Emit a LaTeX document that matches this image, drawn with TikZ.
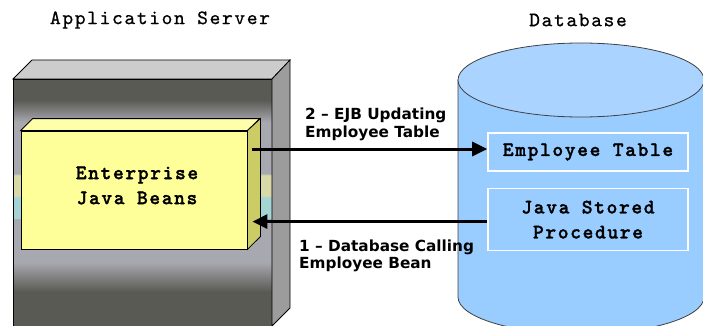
\documentclass[tikz,border=0pt]{standalone}
\usepackage{fontspec}
\usepackage{xcolor}
\usepackage{tikz}
\usetikzlibrary{arrows.meta,positioning,calc}
\newfontfamily\monofont{lmmono10-regular.otf}[LetterSpace=8, FakeBold=0.7, BoldFont=lmmonolt10-bold.otf, BoldFeatures={LetterSpace=8, FakeBold=1.4}]
\newfontfamily\arrowfont{DejaVu Sans}
\definecolor{srvdark}{HTML}{5A5A54}
\definecolor{srvlight}{HTML}{A8A8B0}
\definecolor{bandyellow}{HTML}{D8D8A8}
\definecolor{bandcyan}{HTML}{A4D4D4}
\definecolor{srvtop}{HTML}{CCCCCC}
\definecolor{srvside}{HTML}{9C9C9C}
\definecolor{ejbfront}{HTML}{FFFF99}
\definecolor{ejbtop}{HTML}{FFFFAA}
\definecolor{ejbside}{HTML}{CCCC66}
\definecolor{dbtop}{HTML}{AAD4FF}
\definecolor{dbbody}{HTML}{99CCFF}
\definecolor{dbline}{HTML}{404040}
\pgfdeclareverticalshading{serverfront}{100bp}{color(0bp)=(srvdark); color(25bp)=(srvdark); color(32.6bp)=(srvdark); color(38.5bp)=(srvlight); color(47.1bp)=(srvlight); color(47.3bp)=(bandcyan); color(51.5bp)=(bandcyan); color(51.7bp)=(bandyellow); color(55.9bp)=(bandyellow); color(56.1bp)=(srvlight); color(66.4bp)=(srvlight); color(70.8bp)=(srvdark); color(100bp)=(srvdark)}

\begin{document}
\begin{tikzpicture}[x=1pt,y=-1pt,
    title/.style={font={\monofont\fontsize{20.5pt}{25pt}\selectfont}},
    boxtext/.style={font={\monofont\bfseries\fontsize{20.5pt}{25pt}\selectfont}, align=center, inner sep=0pt},
    dbbox/.style={boxtext, draw=white, line width=1.6pt, minimum width=200pt},
    steptext/.style={font={\arrowfont\bfseries\fontsize{15.3pt}{17.5pt}\selectfont}, align=left, inner sep=0pt, anchor=west},
    flow/.style={line width=3pt, -{Triangle[length=15pt,width=14pt]}}]
    \useasboundingbox (0,0) rectangle (703,326);
    \clip (0,0) rectangle (703,326);

    \node[title] (apptitle) at (160,20) {Application Server};
    \node[title] (dbtitle) at (578,20) {Database};

    % Database
    \filldraw[fill=dbbody, draw=dbline, line width=0.8pt] (458,80) -- (458,297)
        arc[start angle=180, end angle=360, x radius=123pt, y radius=37pt] -- (704,80) -- cycle;
    \filldraw[fill=dbtop, draw=dbline, line width=0.8pt] (581,80) ellipse [x radius=123pt, y radius=37pt];
    \node[dbbox, minimum height=38pt] (table) at (588,152) {Employee Table};
    \node[dbbox, minimum height=62pt, below=16pt of table] (proc) {Java Stored\\Procedure};

    % Application server
    \shade[shading=serverfront, draw, line width=0.8pt] (13,79) rectangle (272,330);
    \draw[fill=srvtop, line width=0.8pt] (13,79) -- (32,60) -- (290,60) -- (272,79) -- cycle;
    \draw[fill=srvside, line width=0.8pt] (272,79) -- (290,60) -- (290,308) -- (272,326) -- cycle;

    % EJB
    \node[draw, line width=0.8pt, fill=ejbfront, minimum width=226pt, minimum height=118pt] (ejb) at (134,190) {};
    \draw[fill=ejbtop, line width=0.8pt] (ejb.north west) -- ++(12,-12) -- ++(227,0) -- (ejb.north east) -- cycle;
    \draw[fill=ejbside, line width=0.8pt] (ejb.north east) -- ++(13,-12) -- ++(0,118) -- (ejb.south east) -- cycle;
    \node[boxtext] (ejblabel) at (137,185.5) {Enterprise\\Java Beans};
    \coordinate (ejbout) at ([xshift=5pt]ejb.east);
    \coordinate (tablein) at ([yshift=3pt]table.west);
    \coordinate (procout) at ([yshift=-2pt]proc.west);

    \draw[flow] (ejbout |- tablein) -- (tablein);
    \draw[flow] (procout) -- (ejbout |- procout);

    \node[steptext] (updlabel) at (305,124.5) {2 – EJB Updating\\Employee Table};
    \node[steptext] (calllabel) at (299,256) {1 – Database Calling\\Employee Bean};
\end{tikzpicture}
\end{document}
